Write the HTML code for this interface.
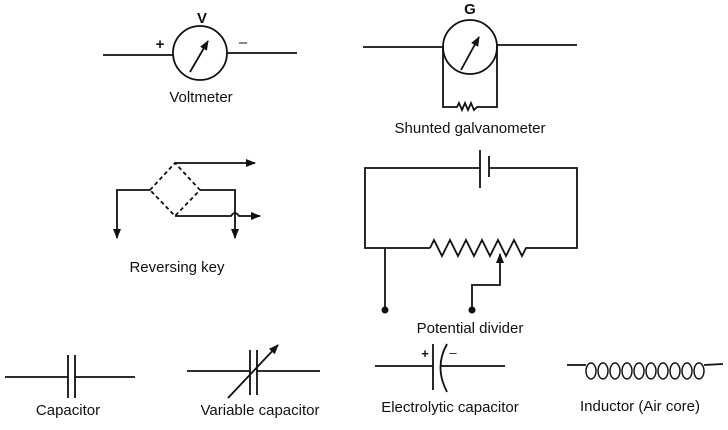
<!DOCTYPE html>
<html><head><meta charset="utf-8"><style>
html,body{margin:0;padding:0;background:#fff;}
svg{display:block;}
text{font-family:"Liberation Sans",Arial,sans-serif;font-size:15px;fill:#111;}
</style></head><body>
<svg width="728" height="430" viewBox="0 0 728 430" xmlns="http://www.w3.org/2000/svg">
<defs>
<marker id="ah" markerWidth="10" markerHeight="10" refX="9" refY="5" orient="auto" markerUnits="userSpaceOnUse">
<path d="M0,1 L10,5 L0,9 Z" fill="#111"/></marker>
</defs>
<g stroke="#111" stroke-width="1.8" fill="none">
<!-- Voltmeter -->
<line x1="103" y1="55" x2="173" y2="55"/>
<circle cx="200" cy="53" r="27"/>
<line x1="227" y1="53" x2="297" y2="53"/>
<line x1="190" y1="72" x2="208" y2="41" marker-end="url(#ah)"/>
<!-- Galvanometer -->
<line x1="363" y1="47" x2="443" y2="47"/>
<circle cx="470" cy="47" r="27"/>
<line x1="497" y1="45" x2="577" y2="45"/>
<line x1="461" y1="70" x2="479" y2="37" marker-end="url(#ah)"/>
<polyline points="443,47 443,107 457,107 459,103 462,110 465,103 468,110 471,103 474,110 477,107 497,107 497,45"/>
<!-- Reversing key -->
<g stroke-dasharray="4,3"><polygon points="150,190 175,163 200,190 175,216"/></g>
<line x1="175" y1="163" x2="255" y2="163" marker-end="url(#ah)"/>
<polyline points="200,190 235,190 235,238" marker-end="url(#ah)"/>
<path d="M175,216 L231,216 Q235,210 239,216 L260,216" marker-end="url(#ah)"/>
<polyline points="150,190 117,190 117,238" marker-end="url(#ah)"/>
<!-- Potential divider -->
<polyline points="480,168 365,168 365,248 430,248"/>
<polyline points="489,168 577,168 577,248 530,248"/>
<line x1="480" y1="150" x2="480" y2="188"/>
<line x1="489" y1="156" x2="489" y2="177"/>
<polyline points="430,248 434,240 442,256 450,240 458,256 466,240 474,256 482,240 490,256 498,240 506,256 514,240 522,256 526,248 530,248"/>
<polyline points="472,310 472,285 500,285 500,254" marker-end="url(#ah)"/>
<line x1="385" y1="248" x2="385" y2="310"/>
<!-- Capacitor -->
<line x1="5" y1="377" x2="68" y2="377"/>
<line x1="75" y1="377" x2="135" y2="377"/>
<line x1="68" y1="355" x2="68" y2="398"/>
<line x1="75" y1="355" x2="75" y2="398"/>
<!-- Variable capacitor -->
<line x1="187" y1="371" x2="250" y2="371"/>
<line x1="257" y1="371" x2="320" y2="371"/>
<line x1="250" y1="350" x2="250" y2="395"/>
<line x1="257" y1="350" x2="257" y2="395"/>
<line x1="228" y1="398" x2="278" y2="345" marker-end="url(#ah)"/>
<!-- Electrolytic -->
<line x1="375" y1="366" x2="433" y2="366"/>
<line x1="433" y1="344" x2="433" y2="390"/>
<path d="M447,344 Q434,367 447,392"/>
<line x1="440" y1="366" x2="505" y2="366"/>
<!-- Inductor -->
<line x1="567" y1="365" x2="586" y2="365"/>
<line x1="704" y1="365" x2="723" y2="364"/>
<g stroke-width="1.4">
<ellipse cx="591" cy="371" rx="5" ry="8"/><ellipse cx="603" cy="371" rx="5" ry="8"/>
<ellipse cx="615" cy="371" rx="5" ry="8"/><ellipse cx="627" cy="371" rx="5" ry="8"/>
<ellipse cx="639" cy="371" rx="5" ry="8"/><ellipse cx="651" cy="371" rx="5" ry="8"/>
<ellipse cx="663" cy="371" rx="5" ry="8"/><ellipse cx="675" cy="371" rx="5" ry="8"/>
<ellipse cx="687" cy="371" rx="5" ry="8"/><ellipse cx="699" cy="371" rx="5" ry="8"/>
</g>
</g>
<circle cx="385" cy="310" r="3.5" fill="#111"/>
<circle cx="472" cy="310" r="3.5" fill="#111"/>
<text x="202" y="23" text-anchor="middle" font-weight="bold">V</text>
<text x="160" y="49" text-anchor="middle" font-weight="bold">+</text>
<text x="243" y="47" text-anchor="middle">–</text>
<text x="201" y="102" text-anchor="middle">Voltmeter</text>
<text x="470" y="14" text-anchor="middle" font-weight="bold">G</text>
<text x="470" y="133" text-anchor="middle">Shunted galvanometer</text>
<text x="177" y="272" text-anchor="middle">Reversing key</text>
<text x="470" y="333" text-anchor="middle">Potential divider</text>
<text x="68" y="415" text-anchor="middle">Capacitor</text>
<text x="260" y="415" text-anchor="middle">Variable capacitor</text>
<text x="450" y="412" text-anchor="middle">Electrolytic capacitor</text>
<text x="640" y="411" text-anchor="middle">Inductor (Air core)</text>
<text x="425" y="358" text-anchor="middle" style="font-size:13px" font-weight="bold">+</text>
<text x="453" y="357" text-anchor="middle" style="font-size:13px">–</text>
</svg>
</body></html>
